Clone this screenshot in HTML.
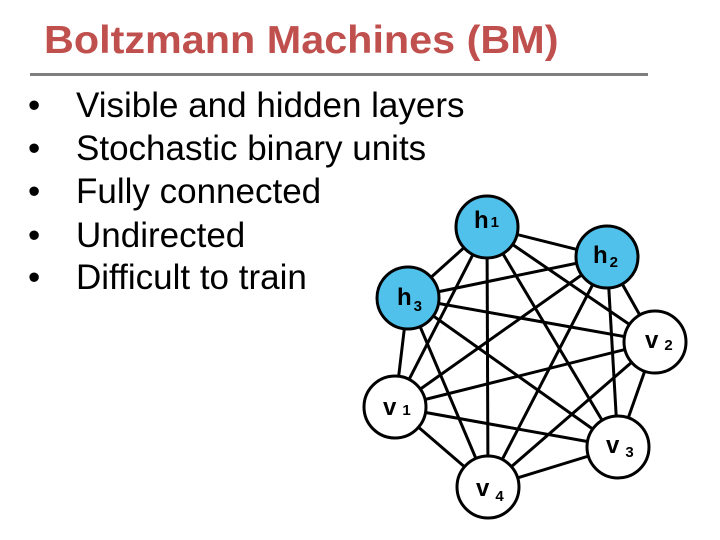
<!DOCTYPE html>
<html><head><style>
body{margin:0;width:720px;height:540px;background:#fff;position:relative;overflow:hidden;font-family:"Liberation Sans",sans-serif}
.t{position:absolute;left:44px;top:19px;font-size:39px;font-weight:bold;color:#c0504d;transform:scaleX(1.06);transform-origin:0 0;white-space:nowrap}
.rule{position:absolute;left:30px;top:73px;width:618px;height:3px;background:#7f7f7f}
.b{position:absolute;left:28px;font-size:35px;color:#000;line-height:40px;white-space:nowrap}
.b span{display:inline-block;width:48px}
</style></head><body>
<div class="t">Boltzmann Machines (BM)</div>
<div class="rule"></div>
<div class="b" style="top:86px"><span>•</span>Visible and hidden layers</div>
<div class="b" style="top:129px"><span>•</span>Stochastic binary units</div>
<div class="b" style="top:172px"><span>•</span>Fully connected</div>
<div class="b" style="top:216px"><span>•</span>Undirected</div>
<div class="b" style="top:258px"><span>•</span>Difficult to train</div>
<svg width="720" height="540" style="position:absolute;left:0;top:0">
<g stroke="#000" stroke-width="3">
<line x1="487" y1="227" x2="607" y2="257"/><line x1="487" y1="227" x2="408" y2="298"/><line x1="487" y1="227" x2="655" y2="342"/><line x1="487" y1="227" x2="395" y2="407"/><line x1="487" y1="227" x2="618" y2="447"/><line x1="487" y1="227" x2="488" y2="487"/>
<line x1="607" y1="257" x2="408" y2="298"/><line x1="607" y1="257" x2="655" y2="342"/><line x1="607" y1="257" x2="395" y2="407"/><line x1="607" y1="257" x2="618" y2="447"/><line x1="607" y1="257" x2="488" y2="487"/>
<line x1="408" y1="298" x2="655" y2="342"/><line x1="408" y1="298" x2="395" y2="407"/><line x1="408" y1="298" x2="618" y2="447"/><line x1="408" y1="298" x2="488" y2="487"/>
<line x1="655" y1="342" x2="395" y2="407"/><line x1="655" y1="342" x2="618" y2="447"/><line x1="655" y1="342" x2="488" y2="487"/>
<line x1="395" y1="407" x2="618" y2="447"/><line x1="395" y1="407" x2="488" y2="487"/>
<line x1="618" y1="447" x2="488" y2="487"/>
</g>
<g stroke="#000" stroke-width="3">
<circle cx="487" cy="227" r="31" fill="#4fc1ea"/><circle cx="607" cy="257" r="31" fill="#4fc1ea"/><circle cx="408" cy="298" r="31" fill="#4fc1ea"/>
<circle cx="655" cy="342" r="31" fill="#fff"/><circle cx="395" cy="407" r="31" fill="#fff"/><circle cx="618" cy="447" r="31" fill="#fff"/><circle cx="488" cy="487" r="31" fill="#fff"/>
</g>
<g font-family="Liberation Sans,sans-serif" font-weight="bold" font-size="24" fill="#000">
<text x="474" y="228">h<tspan font-size="15" dx="2" dy="-1">1</tspan></text>
<text x="593" y="263">h<tspan font-size="15" dx="2" dy="4">2</tspan></text>
<text x="397" y="305">h<tspan font-size="15" dx="2" dy="6">3</tspan></text>
<text x="645" y="348">v<tspan font-size="15" dx="6" dy="2">2</tspan></text>
<text x="383" y="415">v<tspan font-size="15" dx="6" dy="0">1</tspan></text>
<text x="606" y="453">v<tspan font-size="15" dx="6" dy="4">3</tspan></text>
<text x="476" y="496">v<tspan font-size="15" dx="6" dy="5">4</tspan></text>
</g>
</svg>
</body></html>
